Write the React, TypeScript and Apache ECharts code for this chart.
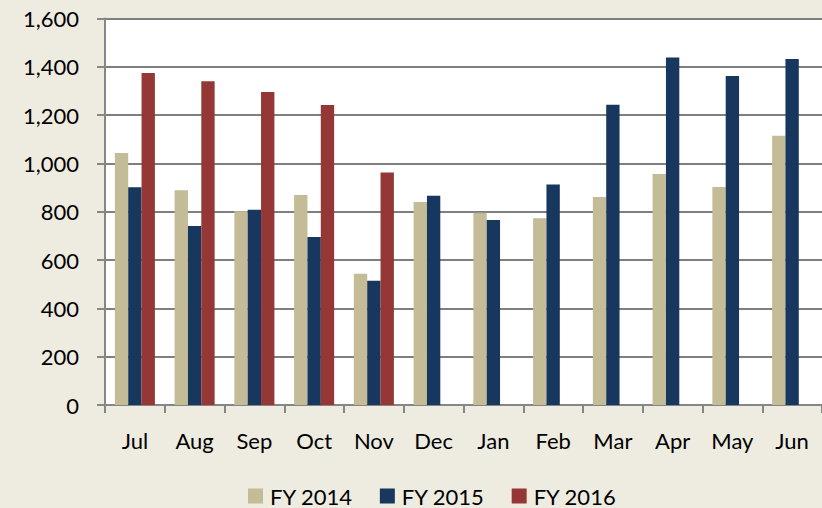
import React, { useEffect, useRef } from "react";
import * as echarts from "echarts";

const months = ["Jul", "Aug", "Sep", "Oct", "Nov", "Dec", "Jan", "Feb", "Mar", "Apr", "May", "Jun"];
const fy2014 = [1043, 889, 802, 869, 543, 840, 796, 773, 861, 956, 902, 1115];
const fy2015 = [901, 741, 808, 695, 514, 866, 766, 913, 1243, 1439, 1362, 1432];
const fy2016 = [1374, 1340, 1296, 1242, 963, null, null, null, null, null, null, null];
const seriesNames = ["FY 2014", "FY 2015", "FY 2016"];
const colors = ["#C4BC96", "#17375E", "#953735"];

export default function App() {
  const ref = useRef<HTMLDivElement>(null);
  useEffect(() => {
    if (!ref.current) return;
    const chart = echarts.init(ref.current, null, { renderer: "svg" });
    const font = "Lato";
    const data = [fy2014, fy2015, fy2016];
    chart.setOption({
      animation: false,
      backgroundColor: "#EEECE1",
      textStyle: { fontFamily: font },
      grid: {
        left: 105,
        top: 18.5,
        width: 720,
        height: 386.5,
        show: true,
        backgroundColor: "#FFFFFF",
        borderWidth: 0,
      },
      legend: {
        left: 248,
        top: 483,
        padding: 0,
        itemWidth: 15,
        itemHeight: 15,
        itemGap: 27,
        icon: "rect",
        textStyle: { fontFamily: font, fontSize: 22, color: "#000", padding: [0, 0, 0, 2], lineHeight: 26 },
        data: seriesNames,
      },
      xAxis: {
        type: "category",
        data: months,
        axisLine: { lineStyle: { color: "#868686", width: 2 } },
        axisTick: { show: true, length: 8, lineStyle: { color: "#868686", width: 2 } },
        axisLabel: { color: "#000", fontSize: 22, fontFamily: font, margin: 24 },
      },
      yAxis: {
        type: "value",
        min: 0,
        max: 1600,
        interval: 200,
        axisLine: { show: true, lineStyle: { color: "#868686", width: 2 } },
        axisTick: { show: true, length: 8, lineStyle: { color: "#868686", width: 2 } },
        splitLine: { lineStyle: { color: "#7F7F7F", width: 2 } },
        axisLabel: {
          color: "#000",
          fontSize: 22,
          fontFamily: font,
          margin: 26,
          formatter: (v: number) => v.toLocaleString("en-US"),
        },
      },
      series: seriesNames.map((name, i) => ({
        name,
        type: "bar",
        data: data[i],
        barGap: "0%",
        barCategoryGap: "33%",
        itemStyle: { color: colors[i] },
      })),
    });
    return () => chart.dispose();
  }, []);
  return (
    <div
      ref={ref}
      style={{ position: "fixed", left: 0, top: 0, width: 822, height: 508 }}
    />
  );
}
